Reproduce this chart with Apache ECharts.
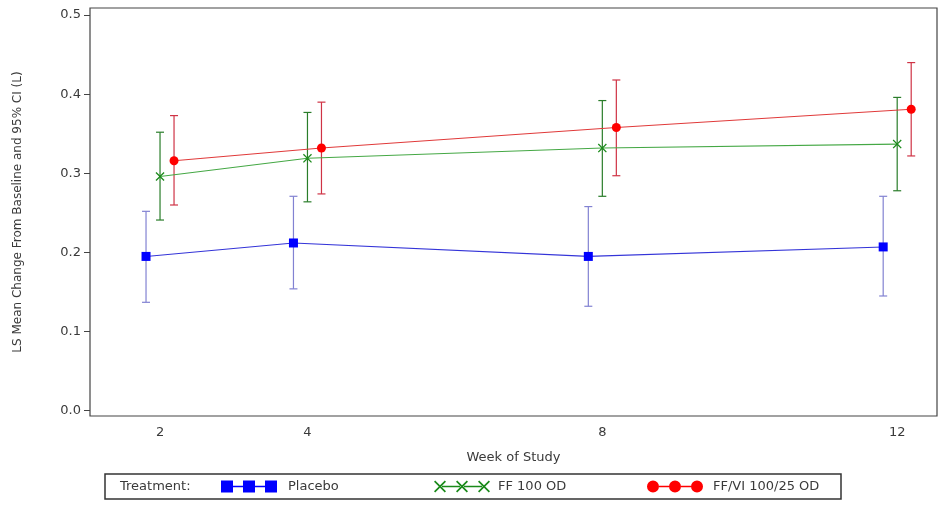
<!DOCTYPE html>
<html><head><meta charset="utf-8">
<script src="https://cdn.jsdelivr.net/npm/echarts@6/dist/echarts.min.js"></script>
<style>html,body{margin:0;padding:0;background:#fff}#c{width:940px;height:506px}</style>
</head><body><div id="c"></div>
<script>
const weeks = [2, 4, 8, 12];
const xTickLabels = [2, 4, 8, 12];
const yTickLabels = [0.0, 0.1, 0.2, 0.3, 0.4, 0.5];
const seriesNames = ['Placebo', 'FF 100 OD', 'FF/VI 100/25 OD'];
const placeboMean = [0.195, 0.212, 0.195, 0.207];
const placeboLow  = [0.137, 0.154, 0.132, 0.145];
const placeboHigh = [0.252, 0.271, 0.258, 0.271];
const ffMean = [0.296, 0.319, 0.332, 0.337];
const ffLow  = [0.241, 0.264, 0.271, 0.278];
const ffHigh = [0.352, 0.377, 0.392, 0.396];
const ffviMean = [0.316, 0.332, 0.358, 0.381];
const ffviLow  = [0.260, 0.274, 0.297, 0.322];
const ffviHigh = [0.373, 0.390, 0.418, 0.440];

const dodge = [-0.19, 0, 0.19];
const FONT = '"DejaVu Sans", "Liberation Sans", Arial, sans-serif';
const TXT = '#3a3a3a';
const X_PATH = 'path://M0,1.2L1.2,0L6,4.8L10.8,0L12,1.2L7.2,6L12,10.8L10.8,12L6,7.2L1.2,12L0,10.8L4.8,6Z';
const icons = [
  'path://M0,0H12V12H0Z M22,0H34V12H22Z M44,0H56V12H44Z M12,5.3H22V6.7H12Z M34,5.3H44V6.7H34Z',
  'path://M0,1.2L1.2,0L6,4.8L10.8,0L12,1.2L7.2,6L12,10.8L10.8,12L6,7.2L1.2,12L0,10.8L4.8,6Z M22,1.2L23.2,0L28,4.8L32.8,0L34,1.2L29.2,6L34,10.8L32.8,12L28,7.2L23.2,12L22,10.8L26.8,6Z M44,1.2L45.2,0L50,4.8L54.8,0L56,1.2L51.2,6L56,10.8L54.8,12L50,7.2L45.2,12L44,10.8L48.8,6Z M8,5.3H26V6.7H8Z M30,5.3H48V6.7H30Z',
  'path://M0,6a6,6 0 1,0 12,0a6,6 0 1,0 -12,0Z M22,6a6,6 0 1,0 12,0a6,6 0 1,0 -12,0Z M44,6a6,6 0 1,0 12,0a6,6 0 1,0 -12,0Z M12,5.3H22V6.7H12Z M34,5.3H44V6.7H34Z'
];
const markerColors = ['#0000ff', '#1a8a1a', '#ff0000'];
const lineColors = ['#3434d8', '#45a845', '#e03a3a'];
const barColors = ['#8282d2', '#2a7d2a', '#cf3345'];
const symbols = ['rect', X_PATH, 'circle'];
const symbolSizes = [9, 9, 9];
const means = [placeboMean, ffMean, ffviMean];
const lows = [placeboLow, ffLow, ffviLow];
const highs = [placeboHigh, ffHigh, ffviHigh];

const series = [];
for (let s = 0; s < 3; s++) {
  series.push({
    type: 'custom', name: seriesNames[s] + ' CI', z: 2,
    data: weeks.map((w, i) => [w + dodge[s], lows[s][i], highs[s][i]]),
    encode: { x: 0, y: [1, 2] },
    renderItem: function (params, api) {
      const x = api.value(0);
      const lo = api.coord([x, api.value(1)]);
      const hi = api.coord([x, api.value(2)]);
      const hw = 4;
      const st = { stroke: barColors[s], lineWidth: 1.2 };
      return { type: 'group', children: [
        { type: 'line', shape: { x1: lo[0], y1: lo[1], x2: hi[0], y2: hi[1] }, style: st },
        { type: 'line', shape: { x1: lo[0] - hw, y1: lo[1], x2: lo[0] + hw, y2: lo[1] }, style: st },
        { type: 'line', shape: { x1: hi[0] - hw, y1: hi[1], x2: hi[0] + hw, y2: hi[1] }, style: st }
      ]};
    }
  });
}
for (let s = 0; s < 3; s++) {
  series.push({
    type: 'line', name: seriesNames[s], z: 3,
    data: weeks.map((w, i) => [w + dodge[s], means[s][i]]),
    symbol: symbols[s], symbolSize: symbolSizes[s], showSymbol: true,
    lineStyle: { color: lineColors[s], width: 1.1 },
    itemStyle: { color: markerColors[s] },
    emphasis: { disabled: true }, animation: false
  });
}

const legends = [221, 434, 647].map((left, s) => ({
  left: left, top: 480, padding: 0, itemWidth: 56, itemHeight: 12,
  selectedMode: false,
  data: [{ name: seriesNames[s], icon: icons[s], itemStyle: { color: markerColors[s], borderWidth: 0 } }],
  textStyle: { fontFamily: FONT, fontSize: 13, color: TXT, padding: [0, 0, 0, [6, 3, 5][s]] }
}));

const chart = echarts.init(document.getElementById('c'), null, { renderer: 'canvas' });
chart.setOption({
  animation: false,
  backgroundColor: '#fff',
  grid: { left: 90, top: 8, right: 3, bottom: 90, show: true, borderColor: '#444', borderWidth: 1.2 },
  xAxis: {
    type: 'value', min: 1.05, max: 12.54,
    name: 'Week of Study', nameLocation: 'middle', nameGap: 35,
    nameTextStyle: { fontFamily: FONT, fontSize: 13, color: TXT },
    axisLine: { show: false }, axisTick: { show: false }, splitLine: { show: false },
    axisLabel: { customValues: xTickLabels, fontFamily: FONT, fontSize: 13, color: TXT, margin: 10 }
  },
  yAxis: {
    type: 'value', min: -0.0067, max: 0.509,
    name: 'LS Mean Change From Baseline and 95% CI (L)', nameLocation: 'middle', nameGap: 66,
    nameTextStyle: { fontFamily: FONT, fontSize: 12, color: TXT },
    axisLine: { show: false }, splitLine: { show: false },
    axisTick: { show: true, customValues: yTickLabels, length: 6, lineStyle: { color: '#444' } },
    axisLabel: { customValues: yTickLabels, fontFamily: FONT, fontSize: 13, color: TXT, margin: 9,
      formatter: v => v.toFixed(1) }
  },
  legend: legends,
  graphic: [
    { type: 'rect', shape: { x: 105, y: 474, width: 736, height: 25 }, style: { fill: 'none', stroke: '#333', lineWidth: 1.5 } },
    { type: 'text', x: 120, y: 487, style: { text: 'Treatment:', font: '13px ' + FONT, fill: TXT, verticalAlign: 'middle' } }
  ],
  series: series
});
</script></body></html>
